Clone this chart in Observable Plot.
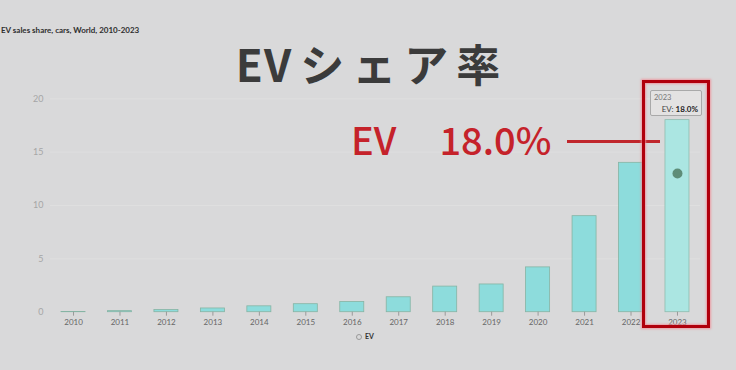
<!DOCTYPE html>
<html>
<head>
<meta charset="utf-8">
<script src="https://cdn.jsdelivr.net/npm/d3@7"></script>
<script src="https://cdn.jsdelivr.net/npm/@observablehq/plot@0.6"></script>
<style>
  html, body { margin: 0; padding: 0; background: #d9d9da; }
  #wrap { position: relative; width: 736px; height: 370px; overflow: hidden; background: #d9d9da; font-family: Lato, "Liberation Sans", sans-serif; }
  #chart { position: absolute; left: 0; top: 0; }
  .abs { position: absolute; white-space: nowrap; }
  #source { left: 1px; top: 25px; font-size: 8px; font-weight: 700; color: #2e2e2e; }
  #title { left: 0; width: 736px; top: 41px; text-align: center; font-family: "Noto Sans CJK JP", sans-serif; font-weight: 700; font-size: 44px; line-height: 1; color: #3b3b3b; }
  #title .lat { letter-spacing: 1px; margin-right: 8px; }
  #title .kana { letter-spacing: 8px; margin-right: -8px; }
  #callout { left: 351px; top: 120px; font-family: "Noto Sans CJK JP", sans-serif; font-weight: 500; font-size: 38px; line-height: 1; color: #c5222a; }
  #callout .val { margin-left: 43px; }
  #leader { left: 567px; top: 140px; width: 93px; height: 2.5px; background: #c0262c; }
  #focus { left: 642px; top: 80px; width: 62px; height: 242px; border: 3px solid #b0000c; box-shadow: 0 0 2px 1px rgba(240,140,150,0.8), inset 0 0 2px 1px rgba(240,140,150,0.8); }
  #tip { left: 650px; top: 90px; width: 52px; height: 26px; background: #e3e2e2; border: 1px solid #a9a9a9; border-radius: 2px; font-size: 7.5px; color: #555; box-sizing: border-box; }
  #tip .yr { position: absolute; left: 3px; top: 2px; color: #777; }
  #tip .row { position: absolute; right: 3px; top: 13px; font-size: 8px; color: #444; }
  #tip .row b { color: #1e1e1e; }
  #legend { left: 356px; top: 332px; font-size: 7px; font-weight: 700; color: #333; }
  #legend .sw { display: inline-block; width: 4px; height: 4px; border: 1px solid #999; border-radius: 50%; margin-right: 3px; vertical-align: middle; }
</style>
</head>
<body>
<div id="wrap">
  <div id="chart"></div>
  <div class="abs" id="source">EV sales share, cars, World, 2010-2023</div>
  <div class="abs" id="title"><span class="lat">EV</span><span class="kana">シェア率</span></div>
  <div class="abs" id="callout"><span>EV</span><span class="val">18.0%</span></div>
  <div class="abs" id="leader"></div>
  <div class="abs" id="focus"></div>
  <div class="abs" id="tip"><span class="yr">2023</span><span class="row">EV: <b>18.0%</b></span></div>
  <div class="abs" id="legend"><span class="sw"></span>EV</div>
</div>
<script>
// Share of new car sales that are electric, world, percent
const years = ["2010","2011","2012","2013","2014","2015","2016","2017","2018","2019","2020","2021","2022","2023"];
const evShare = [0.01, 0.1, 0.2, 0.35, 0.55, 0.75, 0.95, 1.4, 2.4, 2.6, 4.2, 9.0, 14.0, 18.0];
const yTicks = [0, 5, 10, 15, 20];
const highlightYear = "2023";
// hover marker position on the highlighted bar
const markerYear = ["2023"];
const markerValue = [13];

const data = years.map((year, i) => ({year, share: evShare[i]}));
const marker = markerYear.map((year, i) => ({year, value: markerValue[i]}));

const chart = Plot.plot({
  width: 736,
  height: 370,
  marginLeft: 50,
  marginRight: 36,
  marginTop: 98.3,
  marginBottom: 58.3,
  style: {background: "transparent", fontFamily: "Lato, 'Liberation Sans', sans-serif"},
  x: {type: "band", domain: years, paddingInner: 0.483, paddingOuter: 0.237, round: false, label: null},
  y: {domain: [0, 20], label: null},
  marks: [
    Plot.ruleY(yTicks.filter(t => t > 0), {stroke: "#dfdfdf", strokeWidth: 1}),
    Plot.barY(data, {filter: d => d.year !== highlightYear, x: "year", y: "share", fill: "#8ddcdc", stroke: "#86b4a4", strokeWidth: 0.8}),
    Plot.barY(data, {filter: d => d.year === highlightYear, x: "year", y: "share", fill: "#abe6e2", stroke: "#8fbcae", strokeWidth: 0.8}),
    Plot.dot(marker, {x: "year", y: "value", r: 5, fill: "#5e8d78", stroke: "none"}),
    Plot.axisX({tickSize: 4, tickPadding: 3, stroke: "#9a9a9a", fill: "#666", fontSize: 8}),
    Plot.axisY({ticks: yTicks, tickSize: 0, tickPadding: 7, fill: "#a6a6a6", fontSize: 9})
  ]
});
document.getElementById("chart").appendChild(chart);
</script>
</body>
</html>
